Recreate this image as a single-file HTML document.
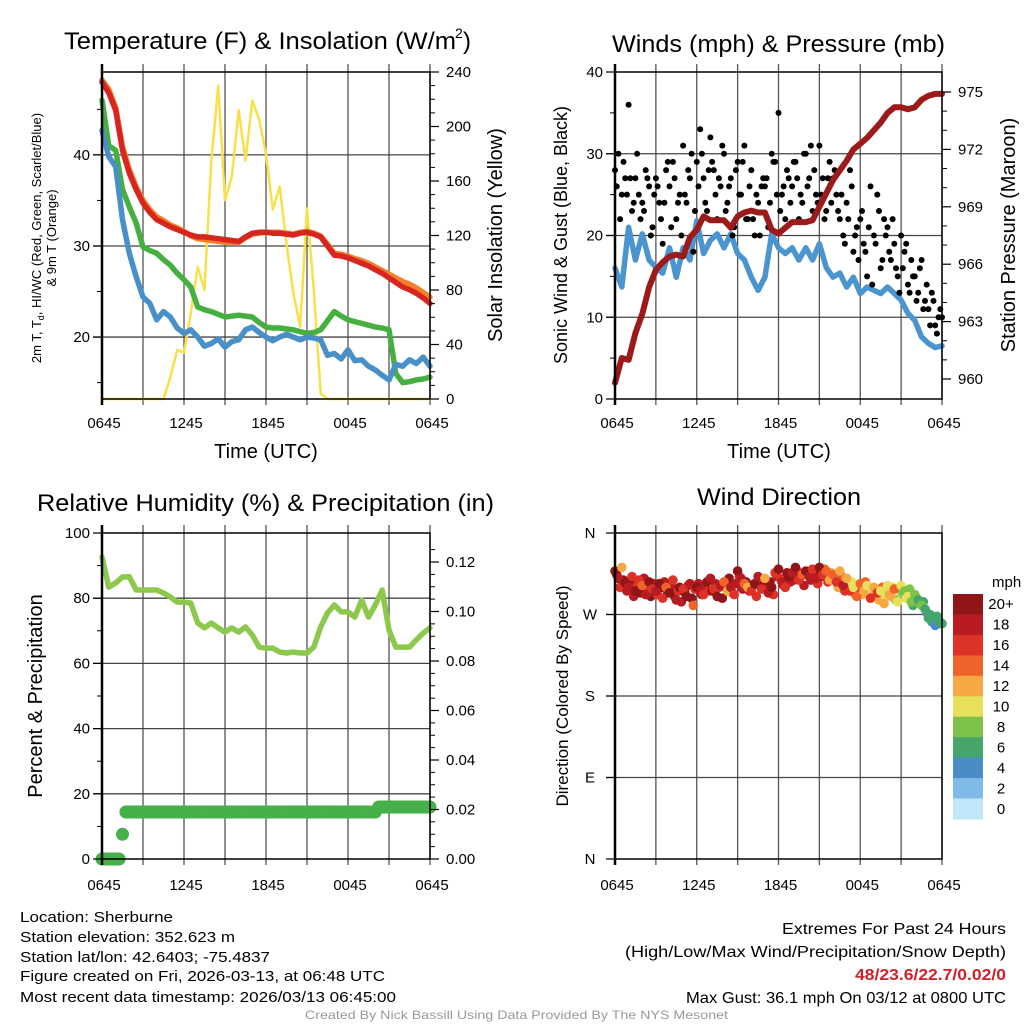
<!DOCTYPE html>
<html><head><meta charset="utf-8"><style>
html,body{margin:0;padding:0;background:#fff;}
svg{display:block;font-family:"Liberation Sans",sans-serif;}
</style></head><body>
<svg id="fig" width="1024" height="1024" viewBox="0 0 1024 1024" xmlns="http://www.w3.org/2000/svg">
<rect width="1024" height="1024" fill="#fff"/>
<g id="grids"></g>
<g id="series"></g>
<g id="frames"></g>
<g id="labels" fill="#000">
 <text x="64" y="49" font-size="24" textLength="392" lengthAdjust="spacingAndGlyphs">Temperature (F) &amp; Insolation (W/m</text>
 <text x="455" y="38" font-size="14">2</text>
 <text x="463" y="49" font-size="24">)</text>
 <text x="612" y="52" font-size="24" textLength="333" lengthAdjust="spacingAndGlyphs">Winds (mph) &amp; Pressure (mb)</text>
 <text x="37" y="511" font-size="24" textLength="457" lengthAdjust="spacingAndGlyphs">Relative Humidity (%) &amp; Precipitation (in)</text>
 <text x="697" y="505" font-size="24" textLength="164" lengthAdjust="spacingAndGlyphs">Wind Direction</text>
 <text x="266" y="458" font-size="20" text-anchor="middle">Time (UTC)</text>
 <text x="779" y="458" font-size="20" text-anchor="middle">Time (UTC)</text>
 <text transform="translate(41,238) rotate(-90)" font-size="13" text-anchor="middle">2m T, T<tspan font-size="9" dy="3">d</tspan><tspan dy="-3">, HI/WC (Red, Green, Scarlet/Blue)</tspan></text>
 <text transform="translate(56,238) rotate(-90)" font-size="13" text-anchor="middle">&amp; 9m T (Orange)</text>
 <text transform="translate(502,235) rotate(-90)" font-size="20" text-anchor="middle">Solar Insolation (Yellow)</text>
 <text transform="translate(567,235) rotate(-90)" font-size="18" text-anchor="middle">Sonic Wind &amp; Gust (Blue, Black)</text>
 <text transform="translate(1015,235) rotate(-90)" font-size="20" text-anchor="middle">Station Pressure (Maroon)</text>
 <text transform="translate(42,696) rotate(-90)" font-size="20" text-anchor="middle">Percent &amp; Precipitation</text>
 <text transform="translate(568,696) rotate(-90)" font-size="17" text-anchor="middle">Direction (Colored By Speed)</text>
 <text x="20" y="922" font-size="15" textLength="153" lengthAdjust="spacingAndGlyphs">Location: Sherburne</text>
 <text x="20" y="942" font-size="15" textLength="215" lengthAdjust="spacingAndGlyphs">Station elevation: 352.623 m</text>
 <text x="20" y="962" font-size="15" textLength="250" lengthAdjust="spacingAndGlyphs">Station lat/lon: 42.6403; -75.4837</text>
 <text x="20" y="981" font-size="15" textLength="365" lengthAdjust="spacingAndGlyphs">Figure created on Fri, 2026-03-13, at 06:48 UTC</text>
 <text x="20" y="1002" font-size="15" textLength="376" lengthAdjust="spacingAndGlyphs">Most recent data timestamp: 2026/03/13 06:45:00</text>
 <text x="782" y="934" font-size="16" textLength="224" lengthAdjust="spacingAndGlyphs">Extremes For Past 24 Hours</text>
 <text x="625" y="957" font-size="16" textLength="381" lengthAdjust="spacingAndGlyphs">(High/Low/Max Wind/Precipitation/Snow Depth)</text>
 <text x="855" y="980" font-size="16" font-weight="bold" fill="#d0202a" textLength="151" lengthAdjust="spacingAndGlyphs">48/23.6/22.7/0.02/0</text>
 <text x="686" y="1003" font-size="16" textLength="320" lengthAdjust="spacingAndGlyphs">Max Gust: 36.1 mph On 03/12 at 0800 UTC</text>
 <text x="305" y="1019" font-size="12" fill="#999" textLength="423" lengthAdjust="spacingAndGlyphs">Created By Nick Bassill Using Data Provided By The NYS Mesonet</text>
 <text x="992" y="587" font-size="15">mph</text>
</g>
<g id="legend"></g>
</svg>
<script>
// ---- data (30-min samples, 0645 -> 0645 UTC) ----
const hours = [0,6,12,18,24];
const hourLabels = ["0645","1245","1845","0045","0645"];
const tempRed = [48.0,46.8,44.9,40.5,38.0,36.2,34.7,33.7,32.9,32.5,32.1,31.8,31.5,31.2,31.0,31.0,30.9,30.8,30.7,30.6,30.5,31.0,31.4,31.5,31.5,31.4,31.4,31.3,31.2,31.4,31.5,31.3,31.0,30.0,29.0,28.9,28.7,28.4,28.1,27.8,27.4,27.0,26.5,26.0,25.5,25.2,24.8,24.3,23.7];
const tempOrange = [48.2,47.2,45.2,40.9,38.4,36.5,35.0,34.0,33.2,32.8,32.3,32.0,31.6,31.1,30.8,30.7,30.6,30.5,30.4,30.4,30.4,30.9,31.3,31.4,31.5,31.5,31.5,31.4,31.3,31.5,31.6,31.4,31.1,30.2,29.2,29.1,28.9,28.6,28.4,28.1,27.7,27.3,26.9,26.5,26.1,25.8,25.4,24.9,24.4];
const dewGreen = [46.0,41.0,40.5,36.2,34.3,32.5,29.9,29.5,29.2,28.5,27.9,27.0,26.3,25.5,23.3,23.0,22.8,22.5,22.2,22.3,22.4,22.3,22.2,21.6,21.1,21.0,21.0,20.9,20.8,20.6,20.4,20.5,20.8,21.8,22.8,22.3,21.9,21.7,21.5,21.3,21.1,21.0,20.8,16.0,15.0,15.1,15.3,15.4,15.6];
const windChillBlue = [42.7,39.8,38.7,32.9,29.2,26.6,24.4,23.7,21.9,22.8,22.2,21.0,20.4,20.8,20.0,19.0,19.3,19.8,18.9,19.5,19.7,20.8,21.1,20.5,20.0,19.6,20.0,20.3,20.0,19.7,20.0,19.9,19.7,18.0,18.2,17.6,18.6,17.4,17.5,16.8,16.4,15.8,15.3,17.0,16.8,17.5,17.1,17.8,16.8];
const solar = [0,0,0,0,0,0,0,0,0,0,16,36,34,63,97,80,175,230,146,163,212,175,219,205,180,139,156,114,78,53,140,80,4,0,0,0,0,0,0,0,0,0,0,0,0,0,0,0,0];
const windSpeed = [16,13.7,21,17,20.2,17,16.1,15.4,18.5,14.9,18.5,17,21.8,17.8,19.4,20.2,18.5,20.2,17.8,17,14.9,13.3,14.9,20.2,18.5,17.8,18.5,17,18.5,17,19,16.1,14.9,15.4,13.7,14.9,12.9,13.7,13.3,12.9,13.7,12.9,12.1,10.5,9.6,7.6,6.8,6.3,6.5];
const pressure = [959.8,961.1,961.0,962.4,963.4,964.8,965.7,966.1,966.4,966.5,966.4,967.4,967.8,968.5,968.3,968.3,968.3,967.9,968.5,968.7,968.8,968.7,968.7,967.8,967.6,967.9,968.2,968.2,968.2,968.3,969.0,969.7,970.4,970.9,971.4,972.0,972.3,972.6,973.0,973.4,973.9,974.2,974.2,974.1,974.2,974.6,974.8,974.9,974.9];
const humidity = [92.6,83.4,84.7,86.5,86.6,82.5,82.5,82.5,82.5,81.6,80.4,78.8,78.8,78.5,72.4,70.9,72.4,70.9,69.6,70.9,69.6,71.2,68.7,65.0,64.7,64.7,63.5,63.2,63.5,63.2,63.2,65.0,71.2,75.5,77.9,75.8,75.8,74.2,79.4,74.2,77.9,82.5,70.2,65.0,65.0,65.0,67.2,69.3,70.9];
// 15-min samples
const precip = [0,0,0,0,0,0,0.01,0.019,0.019,0.019,0.019,0.019,0.019,0.019,0.019,0.019,0.019,0.019,0.019,0.019,0.019,0.019,0.019,0.019,0.019,0.019,0.019,0.019,0.019,0.019,0.019,0.019,0.019,0.019,0.019,0.019,0.019,0.019,0.019,0.019,0.019,0.019,0.019,0.019,0.019,0.019,0.019,0.019,0.019,0.019,0.019,0.019,0.019,0.019,0.019,0.019,0.019,0.019,0.019,0.019,0.019,0.019,0.019,0.019,0.019,0.019,0.019,0.019,0.019,0.019,0.019,0.019,0.019,0.019,0.019,0.019,0.019,0.019,0.019,0.019,0.019,0.021,0.021,0.021,0.021,0.021,0.021,0.021,0.021,0.021,0.021,0.021,0.021,0.021,0.021,0.021,0.021];
const gustA = [28,30,25,27,36,23,27,25,24,28,26,21,27,24,19,28,26,29,22,25,31,24,27,18,29,33,27,23,32,28,22,26,30,24,27,21,29,25,31,22,28,20,24,26,26,21,30,29,35,25,22,27,26,29,22,24,30,27,23,25,31,27,23,29,27,25,22,20,24,28,18,21,22,19,15,26,20,25,16,22,21,17,19,15,20,18,14,17,15,13,17,12,11,13,9,10,10];
const gustB = [26,22,29,25,27,24,30,22,23,27,20,25,26,22,24,29,21,27,24,20,25,28,30,23,26,30,24,28,29,25,27,31,23,26,20,28,25,29,22,26,22,25,20,27,27,24,29,25,23,26,28,24,29,27,25,30,26,31,28,24,25,22,27,24,28,23,25,19,22,26,20,17,23,18,21,14,19,23,17,20,18,22,16,13,16,19,13,15,12,16,11,14,9,12,8,11];
const dirA = [318,310,322,305,300,312,296,308,302,292,306,298,296,304,288,300,294,308,286,300,298,290,304,280,300,296,292,306,310,298,290,302,306,296,300,292,318,310,304,300,296,304,312,298,310,294,300,316,320,306,300,312,316,322,308,314,318,312,320,310,322,314,318,308,314,306,318,302,310,296,300,290,304,296,302,288,300,294,296,282,302,290,298,284,302,296,290,284,292,286,280,276,266,262,258,264,260];
const spdA = [20,18,12,20,18,16,20,16,14,18,20,16,18,20,16,14,20,16,18,20,16,20,18,14,20,18,16,20,18,16,20,18,14,12,18,16,20,18,14,12,16,20,18,16,12,18,20,16,20,18,16,20,18,20,16,14,20,18,16,18,20,16,14,12,14,16,12,18,12,16,10,14,14,12,10,16,12,16,10,12,10,12,14,10,10,8,10,8,8,6,8,6,6,6,4,6,6];
const dirB = [314,300,308,296,306,290,302,294,310,300,290,304,292,300,306,294,302,290,296,284,294,302,288,298,304,292,300,296,296,304,300,288,300,310,294,304,312,298,306,296,302,290,306,300,298,306,292,312,310,302,316,306,308,318,312,302,314,308,316,304,312,320,306,316,308,300,312,296,300,306,292,298,292,306,298,290,296,286,300,290,292,300,286,296,294,288,298,280,288,282,284,272,270,264,268,260];
const spdB = [18,16,20,18,20,18,16,20,18,16,20,18,16,20,18,20,18,20,16,18,20,18,20,16,18,20,18,16,20,18,16,20,18,20,16,18,16,18,20,18,20,16,18,20,18,20,16,18,16,18,20,18,18,16,20,18,16,18,20,16,18,14,16,12,16,12,14,16,14,10,12,16,12,14,10,12,10,12,14,10,12,10,8,10,8,10,8,6,6,8,6,4,6,4,6,6];
const speedBins = ["0","2","4","6","8","10","12","14","16","18","20+"];
const speedColors = ["#bfe6f9","#7fbbe6","#4a8cc8","#45a56b","#7dc24b","#e6e05a","#f6a843","#ef6229","#dc3227","#b81c22","#8f1519"];

// ---- layout ----
const NS = "http://www.w3.org/2000/svg";
const P1 = {x0:102,x1:430,y0:72,y1:399};
const P2 = {x0:615,x1:942,y0:72,y1:399};
const P3 = {x0:102,x1:430,y0:533,y1:859};
const P4 = {x0:615,x1:942,y0:533,y1:859};
function el(tag, attrs, parent){const e=document.createElementNS(NS,tag);for(const k in attrs)e.setAttribute(k,attrs[k]);parent.appendChild(e);return e;}
const G = document.getElementById('grids'), S = document.getElementById('series'), F = document.getElementById('frames'), L = document.getElementById('legend');
const xs = (P, h) => P.x0 + (P.x1-P.x0)*h/24;
const lin = (P, lo, hi) => v => P.y1 - (v-lo)/(hi-lo)*(P.y1-P.y0);
const yT = lin(P1, 13.2, 49.1), ySol = lin(P1, 0, 240);
const yW = lin(P2, 0, 40), yP = v => 379 - (v-960)*(379-92)/15;
const yRH = lin(P3, 0, 100), yPr = v => 859 - v*(859-562)/0.12;
const yDir = v => P4.y1 - v*(P4.y1-P4.y0)/360;

function line(x1,y1,x2,y2,stroke,w,parent,name){const l=el('line',{x1,y1,x2,y2,stroke,'stroke-width':w},parent);


return l;}
function txt(x,y,s,anchor,size,name){const t=el('text',{x,y,'font-size':size,'text-anchor':anchor},F);t.textContent=s;


return t;}

function panelBase(P, hGrid, xlabY){
  for(let i=0;i<=8;i++){const x=xs(P,i*3);line(x,P.y0-8,x,P.y1+6,'#555',1.3,G,'vertical-gridline');}
  hGrid.forEach(y=>line(P.x0-9,y,P.x1,y,'#444',1.3,G,'horizontal-gridline'));
  hours.forEach((h,i)=>txt(xs(P,h)+2,xlabY,hourLabels[i],'middle',15,'x-tick-label'));
  const r=el('rect',{x:P.x0,y:P.y0,width:P.x1-P.x0,height:P.y1-P.y0,fill:'none',stroke:'#000','stroke-width':1.5},F);
  
  
  line(P.x0,P.y0-8,P.x0,P.y1+6,'#000',2.5,F,'left-axis-line');
}
function leftTicks(P, vals, yf, fmt, minor){
  vals.forEach(v=>{const y=yf(v);line(P.x0-9,y,P.x0,y,'#000',1.2,F,'left-tick');txt(P.x0-12,y+5,fmt(v),'end',15,'left-tick-label');});
  (minor||[]).forEach(v=>{const y=yf(v);line(P.x0-5,y,P.x0,y,'#000',1,F,'left-minor-tick');});
}
function rightTicks(P, vals, yf, fmt, minor){
  vals.forEach(v=>{const y=yf(v);line(P.x1,y,P.x1+9,y,'#000',1.2,F,'right-tick');txt(P.x1+16,y+5,fmt(v),'start',15,'right-tick-label');});
  (minor||[]).forEach(v=>{const y=yf(v);line(P.x1,y,P.x1+5,y,'#000',1,F,'right-minor-tick');});
}
function path(vals, xf, yf, color, w, name){
  let d=''; vals.forEach((v,i)=>{d+=(i?'L':'M')+xf(i).toFixed(1)+','+yf(v).toFixed(1);});
  const p=el('path',{d,fill:'none',stroke:color,'stroke-width':w,'stroke-linejoin':'round','stroke-linecap':'round'},S);
  
  
}
function dot(x,y,r,color,name){const c=el('circle',{cx:x.toFixed(1),cy:y.toFixed(1),r,fill:color},S);

}

// Panel 1
panelBase(P1,[yT(20),yT(30),yT(40)],428);
leftTicks(P1,[20,30,40],yT,v=>String(v),[15,25,35,45]);
rightTicks(P1,[0,40,80,120,160,200,240],ySol,v=>String(v),[10,20,30,50,60,70,90,100,110,130,140,150,170,180,190,210,220,230]);
const x30a = i => xs(P1, i*0.5);
path(solar,x30a,ySol,'#f9e04a',2.5,'solar-insolation-line');
path(tempOrange,x30a,yT,'#f47f2a',5.5,'temp-9m-orange-line');
path(dewGreen,x30a,yT,'#45b03f',5.5,'dewpoint-green-line');
path(windChillBlue,x30a,yT,'#4a90c8',5.5,'windchill-blue-line');
path(tempRed,x30a,yT,'#d7261f',5.5,'temp-2m-red-line');

// Panel 2
panelBase(P2,[yW(10),yW(20),yW(30)],428);
leftTicks(P2,[0,10,20,30,40],yW,v=>String(v),[5,15,25,35]);
rightTicks(P2,[960,963,966,969,972,975],yP,v=>String(v),[961,962,964,965,967,968,970,971,973,974]);
const x30b = i => xs(P2, i*0.5);
path(windSpeed,x30b,yW,'#4a95cf',5.5,'sonic-wind-line');
gustA.forEach((g,i)=>dot(xs(P2,i*0.25),yW(g),3,'#000','gust-point'));
gustB.forEach((g,i)=>dot(xs(P2,i*0.25+0.125),yW(g),3,'#000','gust-point'));
path(pressure,x30b,yP,'#9b1a1a',6,'pressure-line');

// Panel 3
panelBase(P3,[yRH(20),yRH(40),yRH(60),yRH(80)],890);
leftTicks(P3,[0,20,40,60,80,100],yRH,v=>String(v),[10,30,50,70,90]);
rightTicks(P3,[0,0.02,0.04,0.06,0.08,0.10,0.12],yPr,v=>v.toFixed(2),[0.005,0.01,0.015,0.025,0.03,0.035,0.045,0.05,0.055,0.065,0.07,0.075,0.085,0.09,0.095,0.105,0.11,0.115,0.125]);
path(humidity,i=>xs(P3,i*0.5),yRH,'#8cc84b',5.5,'relative-humidity-line');
precip.forEach((v,i)=>{
  const x=xs(P3,i*0.25), y=yPr(v);
  dot(x,y,6.5,'#46b04a','precip-point');
  if(i<precip.length-1 && precip[i+1]===v){line(x,y,xs(P3,(i+1)*0.25),y,'#46b04a',13,S,'precip-segment');}
});

// Panel 4
panelBase(P4,[yDir(90),yDir(180),yDir(270)],890);
const dirTickVals=[0,90,180,270,360], dirTickLabels=["N","E","S","W","N"];
dirTickVals.forEach((v,i)=>{const y=yDir(v);line(P4.x0-9,y,P4.x0,y,'#000',1.2,F,'left-tick');txt(P4.x0-25,y+5,dirTickLabels[i],'middle',15,'direction-tick-label');});
const colorFor = s => speedColors[Math.min(10,Math.floor(s/2))];
dirB.forEach((d,i)=>dot(xs(P4,i*0.25+0.125),yDir(d),4.8,colorFor(spdB[i]),'direction-point'));
dirA.forEach((d,i)=>dot(xs(P4,i*0.25),yDir(d),4.8,colorFor(spdA[i]),'direction-point'));

// colorbar legend
const cbTop=594, cbH=(819-594)/11;
speedBins.forEach((lab,i)=>{
  const k=10-i, y=cbTop+i*cbH;
  const r=el('rect',{x:953,y:y.toFixed(1),width:30,height:(cbH+0.5).toFixed(1),fill:speedColors[k]},L);
  
  
  const t=el('text',{x:1001,y:(y+cbH/2+5).toFixed(1),'font-size':15,'text-anchor':'middle'},L);
  t.textContent=speedBins[k];
  
  
});
</script>
</body></html>
